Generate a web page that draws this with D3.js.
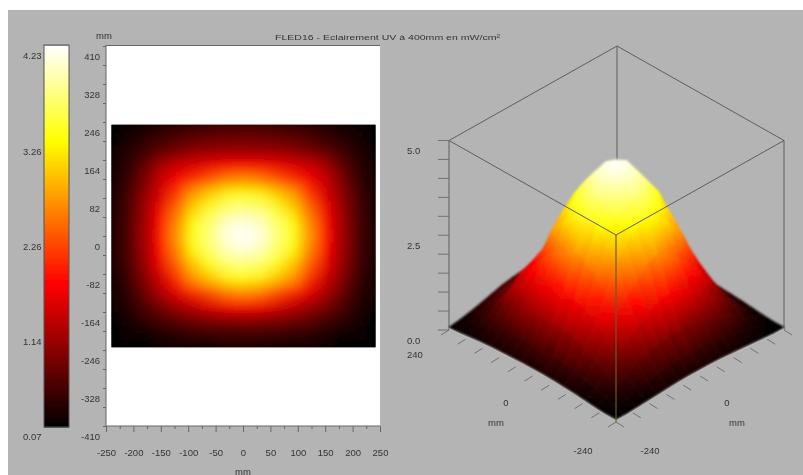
<!DOCTYPE html>
<html>
<head>
<meta charset="utf-8">
<script src="https://cdn.jsdelivr.net/npm/d3@7"></script>
<style>
body { margin: 0; background: #fff; }
text { font-family: "Liberation Sans", sans-serif; font-size: 9.5px; fill: #333; }
</style>
</head>
<body>
<div id="figure"></div>
<script>
var titleText = "FLED16 - Eclairement UV à 400mm en mW/cm²";
var unitText = "mm";

// grid of the measured plane, rows go from +240 down to -240
var gridX = [-240, -210, -180, -150, -120, -90, -60, -30, 0, 30, 60, 90, 120, 150, 180, 210, 240];
var gridY = [240, 210, 180, 150, 120, 90, 60, 30, 0, -30, -60, -90, -120, -150, -180, -210, -240];
var intensity = [
    [.07, .11, .17, .24, .32, .4, .45, .49, .5, .49, .45, .4, .32, .24, .17, .11, .07],
    [.09, .2, .32, .44, .56, .63, .68, .7, .72, .7, .68, .62, .55, .42, .3, .2, .09],
    [.12, .28, .45, .66, .8, .95, 1.0, 1.04, 1.05, 1.04, 1.0, .95, .8, .65, .45, .27, .12],
    [.15, .34, .65, 1.1, 1.35, 1.45, 1.55, 1.62, 1.63, 1.62, 1.55, 1.45, 1.35, 1.1, .65, .34, .15],
    [.17, .4, .8, 1.3, 1.6, 1.9, 2.15, 2.4, 2.5, 2.4, 2.15, 1.9, 1.6, 1.3, .8, .4, .17],
    [.18, .45, .93, 1.4, 1.95, 2.6, 2.9, 3.15, 3.2, 3.15, 2.9, 2.6, 1.95, 1.4, .93, .45, .18],
    [.19, .48, 1.0, 1.55, 2.25, 2.9, 3.3, 3.6, 3.7, 3.6, 3.3, 2.9, 2.25, 1.55, 1.0, .48, .19],
    [.2, .5, 1.03, 1.65, 2.45, 3.2, 3.6, 3.98, 4.08, 3.98, 3.6, 3.2, 2.45, 1.65, 1.03, .5, .2],
    [.2, .5, 1.05, 1.7, 2.55, 3.3, 3.7, 4.1, 4.23, 4.1, 3.7, 3.3, 2.55, 1.7, 1.05, .5, .2],
    [.2, .5, 1.02, 1.63, 2.42, 3.18, 3.58, 3.95, 4.05, 3.95, 3.58, 3.18, 2.42, 1.63, 1.02, .5, .2],
    [.19, .47, .98, 1.52, 2.22, 2.85, 3.28, 3.58, 3.68, 3.58, 3.28, 2.85, 2.22, 1.52, .98, .47, .19],
    [.17, .42, .85, 1.35, 1.9, 2.55, 2.85, 3.12, 3.2, 3.12, 2.85, 2.55, 1.9, 1.35, .85, .42, .17],
    [.15, .35, .7, 1.15, 1.5, 1.85, 2.1, 2.38, 2.5, 2.38, 2.1, 1.85, 1.5, 1.15, .7, .35, .15],
    [.12, .28, .55, .8, 1.05, 1.25, 1.45, 1.58, 1.63, 1.58, 1.45, 1.25, 1.05, .8, .55, .28, .12],
    [.09, .2, .35, .5, .65, .75, .82, .88, .9, .88, .82, .75, .65, .5, .35, .2, .09],
    [.07, .11, .17, .25, .32, .38, .42, .44, .45, .44, .42, .38, .32, .25, .17, .11, .07],
    [.07, .07, .09, .11, .13, .15, .17, .18, .18, .18, .17, .15, .13, .11, .09, .07, .07]
];

var colorStops = [0.07, 1.63, 3.19, 4.23];
var colorNames = ["#000000", "#ff0000", "#ffff00", "#ffffff"];
var barLabels = ["4.23", "3.26", "2.26", "1.14", "0.07"];
var barPositions = [0, 0.25, 0.5, 0.75, 1];
var xTicks = [-250, -200, -150, -100, -50, 0, 50, 100, 150, 200, 250];
var yTicks = [410, 328, 246, 164, 82, 0, -82, -164, -246, -328, -410];
var zTicks = [0, 2.5, 5];

var width = 803, height = 475;
var hot = d3.scaleLinear().domain(colorStops).range(colorNames).clamp(true);

var svg = d3.select("#figure").append("svg")
    .attr("width", width)
    .attr("height", height)
    .style("display", "block");

svg.append("rect").attr("x", 8).attr("y", 10)
    .attr("width", width - 8).attr("height", height - 10)
    .attr("fill", "#b4b4b4");

var defs = svg.append("defs");
defs.append("filter").attr("id", "soft").attr("x", "-5%").attr("y", "-5%").attr("width", "110%").attr("height", "110%")
    .append("feGaussianBlur").attr("stdDeviation", 7);
defs.append("filter").attr("id", "fuzz").attr("filterUnits", "userSpaceOnUse")
    .attr("x", 0).attr("y", 0).attr("width", width).attr("height", height)
    .append("feGaussianBlur").attr("stdDeviation", 0.7);
defs.append("filter").attr("id", "smooth").attr("filterUnits", "userSpaceOnUse")
    .attr("x", 400).attr("y", 100).attr("width", 403).attr("height", 340)
    .append("feGaussianBlur").attr("stdDeviation", 1.3);

var root = svg.append("g").attr("filter", "url(#fuzz)");

root.append("text").attr("x", 275).attr("y", 40)
    .attr("textLength", 225).attr("lengthAdjust", "spacingAndGlyphs")
    .style("font-size", "8px")
    .text(titleText);

// colour bar
var barY = d3.scaleLinear().domain([0.07, 4.23]).range([427, 46]);
root.append("g").selectAll("rect")
    .data(d3.range(0, 381))
    .enter()
    .append("rect")
    .attr("x", 44)
    .attr("y", function (d) { return 46 + d })
    .attr("width", 25)
    .attr("height", 1.5)
    .attr("fill", function (d) { return hot(barY.invert(46.5 + d)) });
root.append("rect").attr("x", 44).attr("y", 45).attr("width", 25).attr("height", 382)
    .attr("fill", "none").attr("stroke", "#555").attr("stroke-width", 1);
var barLabelY = d3.scaleLinear().domain([0, 1]).range([56, 437]);
root.append("g").selectAll("text")
    .data(barPositions)
    .enter()
    .append("text")
    .attr("x", 23)
    .attr("y", function (d) { return barLabelY(d) + 3.4 })
    .text(function (d, i) { return barLabels[i] });

// flat map
var x = d3.scaleLinear().domain([-250, 250]).range([106, 380]);
var y = d3.scaleLinear().domain([-410, 410]).range([426, 46]);

root.append("rect").attr("x", 106).attr("y", 46).attr("width", 274).attr("height", 380).attr("fill", "#fff");
root.append("path").attr("d", "M106,426V45.5H380").attr("fill", "none").attr("stroke", "#666");

defs.append("clipPath").attr("id", "heatclip").append("rect")
    .attr("x", x(-240)).attr("y", y(240))
    .attr("width", x(240) - x(-240) + 1).attr("height", y(-240) - y(240));

var cells = [];
gridY.forEach(function (gy, r) {
    gridX.forEach(function (gx, c) {
        cells.push({ x: gx, y: gy, v: intensity[r][c] });
    });
});

var heat = root.append("g").attr("clip-path", "url(#heatclip)");
heat.append("rect").attr("x", 100).attr("y", 110).attr("width", 290).attr("height", 250).attr("fill", "#000");
heat.append("g").attr("filter", "url(#soft)").selectAll("rect")
    .data(cells)
    .enter()
    .append("rect")
    .attr("x", function (d) { return x(d.x - 15) })
    .attr("y", function (d) { return y(d.y + 15) })
    .attr("width", x(30) - x(0) + 0.5)
    .attr("height", y(0) - y(30) + 0.5)
    .attr("fill", function (d) { return hot(d.v) });

var xAxis = d3.axisBottom(x).tickValues(d3.range(-250, 251, 25)).tickSize(3)
    .tickFormat(function (d) { return xTicks.indexOf(d) >= 0 ? d : "" });
var xg = root.append("g").attr("transform", "translate(0,426)").call(xAxis);
xg.selectAll("text").attr("y", 23).style("font-size", "9.5px").style("font-family", null).attr("fill", null);
xg.selectAll(".tick line").attr("stroke", "#666")
    .attr("y2", function (d) { return xTicks.indexOf(d) >= 0 ? 6 : 3 });
xg.select(".domain").attr("stroke", "#666").attr("d", "M106,0H380");

var yAxis = d3.axisLeft(y).tickValues(d3.range(-410, 411, 41)).tickSize(3)
    .tickFormat(function (d) { return yTicks.indexOf(d) >= 0 ? d : "" });
var yg = root.append("g").attr("transform", "translate(106,0)").call(yAxis);
yg.selectAll("text").attr("x", -6).attr("dy", 13.4).style("font-size", "9.5px").style("font-family", null).attr("fill", null);
yg.selectAll(".tick line").attr("stroke", "#666");
yg.select(".domain").remove();

root.append("text").attr("x", 104).attr("y", 38.5).attr("text-anchor", "middle").text(unitText);
root.append("text").attr("x", 243).attr("y", 474.5).attr("text-anchor", "middle").text(unitText);

// 3d view, the corner nearest to the viewer is (-240, -240)
var alongX = d3.scaleLinear().domain([-240, 240]).range([0, 168]);
var alongY = d3.scaleLinear().domain([-240, 240]).range([0, 167]);
var rise = d3.scaleLinear().domain([0, 5]).range([0, 1]);
var surfaceLift = 1.05;
var px = function (a, b) { return 616 + alongX(a) - alongY(b) };
// slight perspective: verticals grow a little towards the back of the box
var py = function (a, b, h) {
    var depth = alongX(a) * 92 / 168 + alongY(b) * 92 / 167;
    return 422 - depth - rise(h) * (187 + 5 * depth / 184);
};
var line3 = function (pts) {
    return "M" + pts.map(function (p) { return px(p[0], p[1]) + "," + py(p[0], p[1], p[2]) }).join("L");
};
var onSurface = function (p) { return [p[0], p[1], p[2] * surfaceLift] };

var frame = root.append("g").attr("fill", "none").attr("stroke", "#5e5e5e").attr("stroke-width", 1);
frame.append("path").attr("d", line3([[-240, 240, 5], [240, 240, 5], [240, -240, 5]]));
frame.append("path").attr("d", line3([[240, 240, 5], [240, 240, 0]]));
frame.append("path").attr("d", line3([[-240, 240, 5], [-240, 240, 0]]));
frame.append("path").attr("d", line3([[240, -240, 5], [240, -240, 0]]));

// pale rim under the front edges of the surface
var rimA = gridY.map(function (gy, r) { return [-240, gy, intensity[r][0]] });
var rimB = gridX.map(function (gx, c) { return [gx, -240, intensity[gridY.length - 1][c]] });
root.append("path").attr("d", line3(rimA.concat(rimB).map(onSurface)))
    .attr("transform", "translate(0,1.5)")
    .attr("fill", "none").attr("stroke", "#dedede").attr("stroke-width", 1.2);

// back to front so nearer quads cover the ones behind them
var quads = [];
d3.range(gridY.length - 1).forEach(function (r) {
    d3.range(gridX.length - 1).forEach(function (c) {
        quads.push([
            [gridX[c], gridY[r], intensity[r][c]],
            [gridX[c + 1], gridY[r], intensity[r][c + 1]],
            [gridX[c + 1], gridY[r + 1], intensity[r + 1][c + 1]],
            [gridX[c], gridY[r + 1], intensity[r + 1][c]]
        ]);
    });
});
quads.sort(function (a, b) { return (b[1][0] + b[1][1]) - (a[1][0] + a[1][1]) });

quads.forEach(function (q, i) {
    var low = d3.least(q, function (p) { return p[2] });
    var high = d3.greatest(q, function (p) { return p[2] });
    var grad = defs.append("linearGradient").attr("id", "q" + i)
        .attr("gradientUnits", "userSpaceOnUse")
        .attr("x1", px(low[0], low[1])).attr("y1", py(low[0], low[1], low[2] * surfaceLift))
        .attr("x2", px(high[0], high[1])).attr("y2", py(high[0], high[1], high[2] * surfaceLift));
    [0, 0.5, 1].forEach(function (t) {
        grad.append("stop").attr("offset", t).attr("stop-color", hot(low[2] + (high[2] - low[2]) * t));
    });
});

root.append("g").attr("filter", "url(#smooth)").selectAll("path")
    .data(quads)
    .enter()
    .append("path")
    .attr("d", function (d) { return line3(d.map(onSurface)) + "Z" })
    .attr("fill", function (d, i) { return "url(#q" + i + ")" })
    .attr("stroke", function (d, i) { return "url(#q" + i + ")" })
    .attr("stroke-width", 0.7);

var front = root.append("g").attr("fill", "none").attr("stroke", "#5e5e5e").attr("stroke-width", 1);
front.append("path").attr("d", line3([[-240, 240, 5], [-240, -240, 5], [240, -240, 5]]));
front.append("path").attr("d", line3([[-240, -240, 5], [-240, -240, 0]])).attr("stroke", "#6b5a30").attr("stroke-width", 1.2);

// 3d ticks
var tickSteps = d3.range(-240, 241, 48);
var ticks3 = root.append("g").attr("stroke", "#6a6a6a").attr("stroke-width", 0.9);
ticks3.selectAll(".zt").data(d3.range(0, 5.01, 0.5)).enter().append("line")
    .attr("x1", 438).attr("x2", 449)
    .attr("y1", function (d) { return py(-240, 240, d) })
    .attr("y2", function (d) { return py(-240, 240, d) });
ticks3.selectAll(".lt").data(tickSteps).enter().append("line")
    .attr("x1", function (d) { return px(-240, d) }).attr("x2", function (d) { return px(-240, d) - 8 })
    .attr("y1", function (d) { return py(-240, d, 0) }).attr("y2", function (d) { return py(-240, d, 0) + 5 });
ticks3.selectAll(".rt").data(tickSteps).enter().append("line")
    .attr("x1", function (d) { return px(d, -240) }).attr("x2", function (d) { return px(d, -240) + 8 })
    .attr("y1", function (d) { return py(d, -240, 0) }).attr("y2", function (d) { return py(d, -240, 0) + 5 });

// z labels sit about 10px below their ticks, as in the source
root.append("g").selectAll("text").data(zTicks).enter().append("text")
    .attr("x", 407)
    .attr("y", function (d) { return py(-240, 240, d) + 13.5 })
    .text(function (d) { return d.toFixed(1) });

var floorLabels = [
    { t: "240", x: 407, y: 357.5 }, { t: "0", x: 506, y: 405.5 }, { t: unitText, x: 496, y: 425.5 },
    { t: "-240", x: 583, y: 453.5 }, { t: "-240", x: 650, y: 453.5 }, { t: "0", x: 727, y: 405.5 }, { t: unitText, x: 737, y: 425.5 }
];
root.append("g").selectAll("text").data(floorLabels).enter().append("text")
    .attr("x", function (d) { return d.x })
    .attr("y", function (d) { return d.y })
    .attr("text-anchor", function (d) { return d.t == "240" ? "start" : "middle" })
    .text(function (d) { return d.t });
</script>
</body>
</html>
